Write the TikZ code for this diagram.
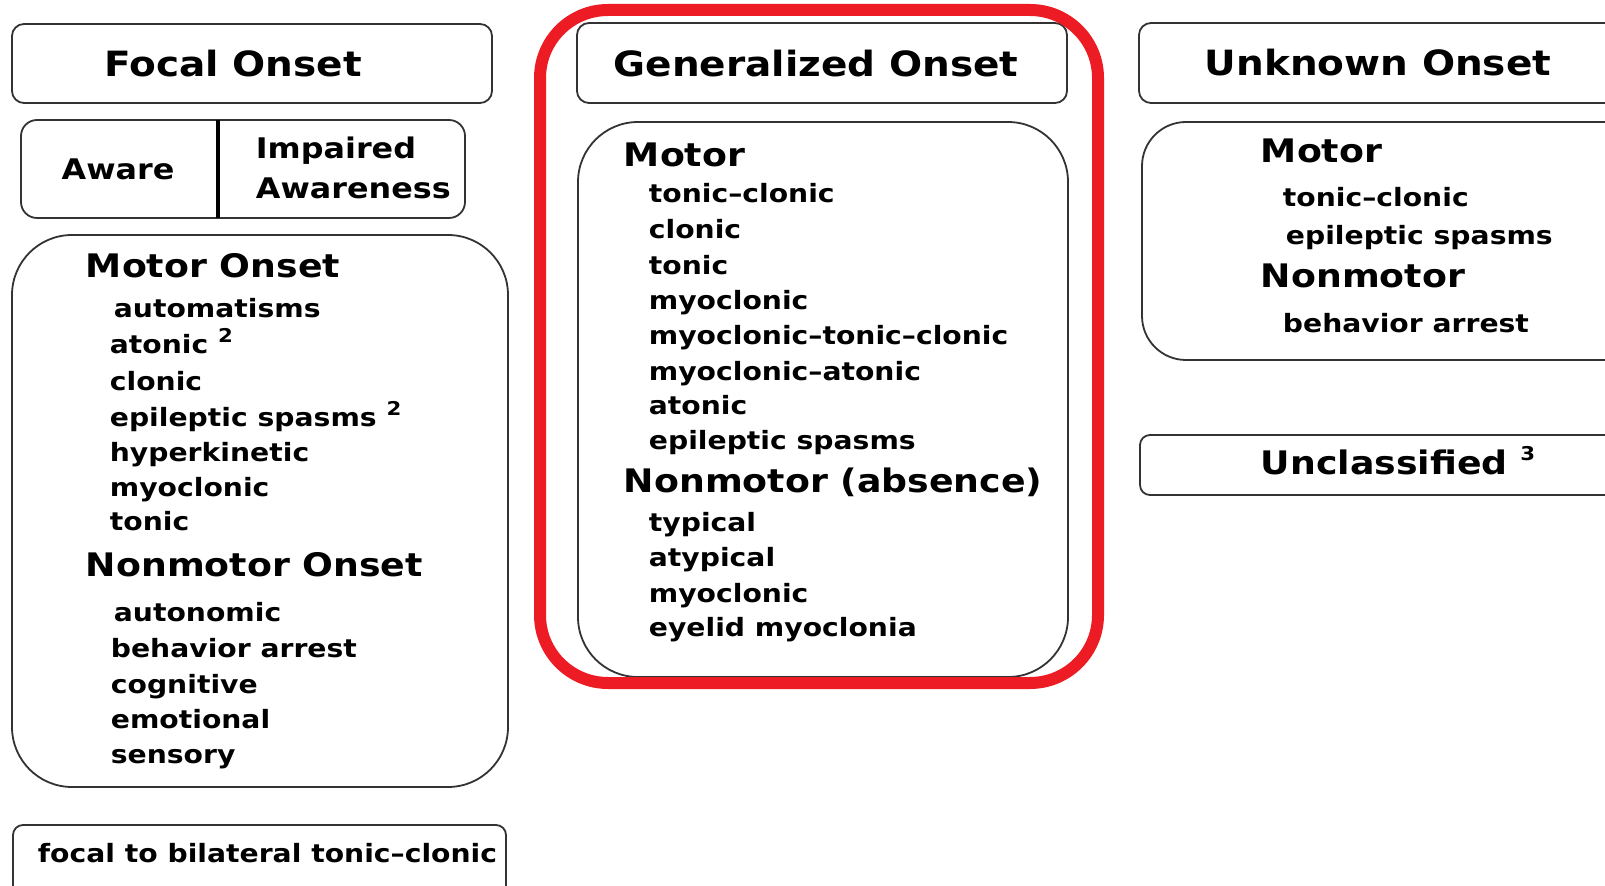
\documentclass[tikz,border=0pt]{standalone}
\usepackage{fontspec}
\setmainfont[FakeStretch=1.12]{DejaVu Sans}
\definecolor{markred}{RGB}{237,28,36}

\tikzset{every picture/.style={line width=0.9pt}}
\tikzset{
  frame/.style={draw=black!80},
  title/.style={inner sep=0pt, anchor=base, font=\bfseries\fontsize{17.4}{20}\selectfont},
  choice/.style={inner sep=0pt, font=\bfseries\fontsize{14.2}{17}\selectfont},
  group/.style={inner sep=0pt, anchor=base west, font=\bfseries\fontsize{16.2}{19}\selectfont},
  entry/.style={inner sep=0pt, anchor=base west, font=\bfseries\fontsize{12.6}{15}\selectfont},
}
\newcommand{\fnmark}[2][5.5pt]{ \raisebox{#1}{\fontsize{9.5}{10}\selectfont #2}}

\begin{document}
\begin{tikzpicture}[x=0.5pt,y=0.5pt,yscale=-1,xscale=1]
\useasboundingbox (0,0) rectangle (1605,886);
\fill [white] (0,0) rectangle (1605,886);
\clip (0,0) rectangle (1605,886);

%Shape: Rectangle [focal header]
\draw [frame, rounded corners=6pt] (12,24) rectangle (492,103);
%Shape: Rectangle [aware / impaired]
\draw [frame, rounded corners=8pt] (21,120) rectangle (465,218);
%Straight Lines [divider]
\draw [line width=1.6pt] (218,120) -- (218,218);
%Shape: Rectangle [focal motor / nonmotor]
\draw [frame, rounded corners=30pt] (12,235) rectangle (508,787);
%Shape: Rectangle [focal to bilateral]
\draw [frame, rounded corners=5pt] (13,825) rectangle (506,920);

%Shape: Rectangle [generalized header]
\draw [frame, rounded corners=6pt] (577,23) rectangle (1067,103);
%Shape: Rectangle [generalized motor / nonmotor]
\draw [frame, rounded corners=30pt] (578,122) rectangle (1068,677);
%Shape: Rectangle [red highlight]
\draw [draw=markred, line width=6pt, rounded corners=34pt] (540,10) rectangle (1098,683);

%Shape: Rectangle [unknown header]
\draw [frame, rounded corners=6pt] (1139,23) rectangle (1660,103);
%Shape: Rectangle [unknown motor / nonmotor]
\draw [frame, rounded corners=22pt] (1142,122) rectangle (1660,360);
%Shape: Rectangle [unclassified]
\draw [frame, rounded corners=5pt] (1140,435) rectangle (1660,495);

% Text Node
\node [title] (focal) at (233,77) {Focal Onset};
% Text Node
\node [choice, anchor=base] (aware) at (118,180) {Aware};
% Text Node
\node [choice, anchor=base west] (impaired) at (255,159) {Impaired};
% Text Node
\node [choice, anchor=base west] (awareness) at (255,199) {Awareness};

% Text Node
\node [group] (fmotor) at (85,278) {Motor Onset};
\node [entry] (fauto) at (113,318) {automatisms};
\node [entry] (fatonic) at (109,354) {atonic\fnmark{2}};
\node [entry] (fclonic) at (109,391) {clonic};
\node [entry] (fspasm) at (109,427) {epileptic spasms\fnmark{2}};
\node [entry] (fhyper) at (109,462) {hyperkinetic};
\node [entry] (fmyo) at (109,497) {myoclonic};
\node [entry] (ftonic) at (109,531) {tonic};
% Text Node
\node [group] (fnonmotor) at (85,577) {Nonmotor Onset};
\node [entry] (fauton) at (113,622) {autonomic};
\node [entry] (farrest) at (110,657) {behavior arrest};
\node [entry] (fcogn) at (110,693) {cognitive};
\node [entry] (femot) at (110,728) {emotional};
\node [entry] (fsens) at (110,763) {sensory};
% Text Node
\node [entry] (bilateral) at (37,862) {focal to bilateral tonic--clonic};

% Text Node
\node [title] (general) at (816,77) {Generalized Onset};
% Text Node
\node [group] (gmotor) at (623,167) {Motor};
\node [entry] (gtc) at (648,203) {tonic--clonic};
\node [entry] (gclonic) at (648,239) {clonic};
\node [entry] (gtonic) at (648,275) {tonic};
\node [entry] (gmyo) at (648,310) {myoclonic};
\node [entry] (gmtc) at (648,345) {myoclonic--tonic--clonic};
\node [entry] (gma) at (648,381) {myoclonic--atonic};
\node [entry] (gatonic) at (648,415) {atonic};
\node [entry] (gspasm) at (648,450) {epileptic spasms};
% Text Node
\node [group] (gabsence) at (623,493) {Nonmotor (absence)};
\node [entry] (gtyp) at (648,532) {typical};
\node [entry] (gatyp) at (648,567) {atypical};
\node [entry] (gamyo) at (648,603) {myoclonic};
\node [entry] (geyelid) at (648,637) {eyelid myoclonia};

% Text Node
\node [title] (unknown) at (1378,76) {Unknown Onset};
% Text Node
\node [group] (umotor) at (1260,163) {Motor};
\node [entry] (utc) at (1282,207) {tonic--clonic};
\node [entry] (uspasm) at (1285,245) {epileptic spasms};
\node [group] (unonmotor) at (1260,288) {Nonmotor};
\node [entry] (uarrest) at (1282,333) {behavior arrest};
% Text Node
\node [group] (unclass) at (1260,475) {Unclassified\fnmark[7pt]{3}};

\end{tikzpicture}
\end{document}
